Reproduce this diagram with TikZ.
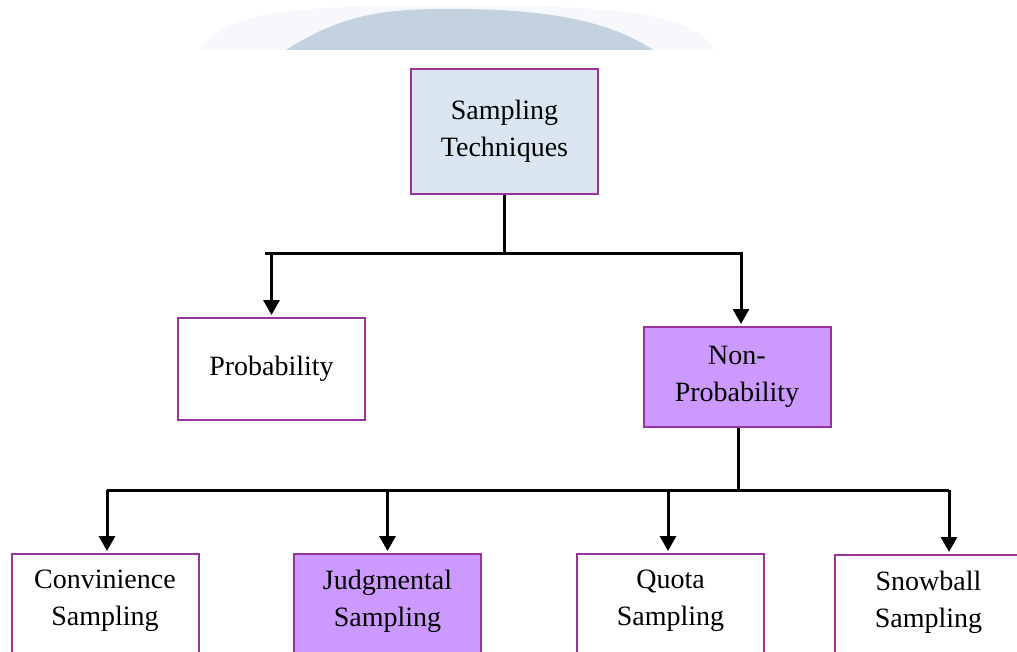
\documentclass[tikz,border=0pt]{standalone}
\usepackage{fontspec}
\setmainfont{Liberation Serif}
\usetikzlibrary{arrows.meta}
\definecolor{boxline}{RGB}{153,51,153}
\definecolor{topfill}{RGB}{219,229,241}
\definecolor{npfill}{RGB}{204,153,255}
\definecolor{smear}{RGB}{196,209,222}
\definecolor{smearlight}{RGB}{246,248,251}

\begin{document}
\begin{tikzpicture}[x=0.5pt, y=-0.5pt,
  box/.style={draw=boxline, line width=1pt, minimum width=93.5pt, align=center,
    font=\fontsize{14}{18.5}\selectfont},
  cutbox/.style={box, anchor=north, inner ysep=8pt, text depth=60pt},
  link/.style={line width=1.5pt},
  arrow/.style={link, -{Triangle[width=8pt,length=7.5pt]}, shorten >=1pt}]

\clip (0,0) rectangle (1017,652);

% faded smear at the top edge
\fill[smearlight] (200,50) .. controls (230,8) and (300,6) .. (450,6) .. controls (600,6) and (690,8) .. (714,50) -- cycle;
\fill[smear] (286,50) .. controls (345,12) and (390,9) .. (450,9) .. controls (520,9) and (600,14) .. (653,50) -- cycle;

% root
\node[box, fill=topfill, minimum height=62.5pt] (tech) at (504.5,131.5) {Sampling\\Techniques};

% first level
\node[box, minimum height=51pt] (prob) at (271.5,369) {Probability};
\node[box, fill=npfill, minimum height=50pt] (nonprob) at (737,377) {Non-\\Probability};

% second level: boxes run off the bottom edge
\node[cutbox] (conv) at (105,553) {Convinience\\Sampling};
\node[cutbox, fill=npfill] (judg) at (387.5,553) {Judgmental\\Sampling};
\node[cutbox] (quota) at (670.5,553) {Quota\\Sampling};
\node[cutbox] (snow) at (928.5,554) {Snowball\\Sampling};

% root to first level
\coordinate (split1) at (504.5,254);
\draw[link] (tech.south) -- (split1);
\draw[link] (265,254) -- (743,254);
\draw[arrow] (prob.north |- split1) -- (prob.north);
\draw[arrow] ([xshift=2pt]nonprob.north |- split1) -- ([xshift=2pt]nonprob.north);

% non-probability to second level
\coordinate (split2) at (738,490);
\draw[link] (nonprob.south -| split2) -- (split2);
\draw[link] ([xshift=1pt]conv.north |- split2) -- ([xshift=10.25pt]snow.north |- split2);
\draw[arrow] ([xshift=1pt]conv.north |- split2) -- ([xshift=1pt]conv.north);
\draw[arrow] (judg.north |- split2) -- (judg.north);
\draw[arrow] ([xshift=-1.25pt]quota.north |- split2) -- ([xshift=-1.25pt]quota.north);
\draw[arrow] ([xshift=10.25pt]snow.north |- split2) -- ([xshift=10.25pt]snow.north);

\end{tikzpicture}
\end{document}
